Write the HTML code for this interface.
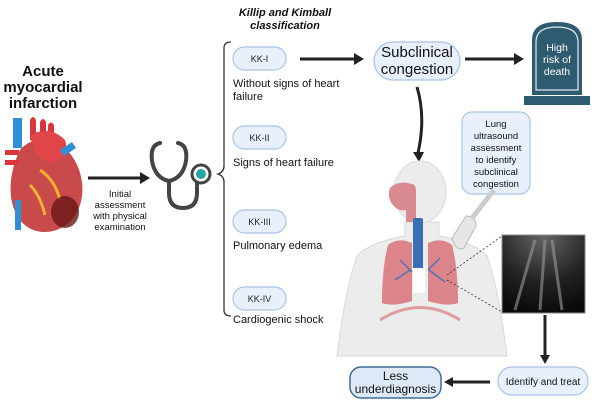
<!DOCTYPE html>
<html><head><meta charset="utf-8"><style>
html,body{margin:0;padding:0;background:#fff;}
svg{display:block;font-family:"Liberation Sans",sans-serif;}
</style></head><body>
<svg width="600" height="415" viewBox="0 0 600 415" xmlns="http://www.w3.org/2000/svg">
<defs>
<radialGradient id="us" cx="0.5" cy="0" r="1"><stop offset="0" stop-color="#666"/><stop offset="0.6" stop-color="#222"/><stop offset="1" stop-color="#0a0a0a"/></radialGradient>
</defs>
<!-- title -->
<g font-weight="bold" font-size="15" fill="#111" text-anchor="middle">
<text x="43" y="76">Acute</text><text x="43" y="92">myocardial</text><text x="43" y="108">infarction</text></g>
<!-- heart -->
<g>
<rect x="13" y="118" width="9" height="30" fill="#2f8fd6"/>
<path d="M30,120 q3,-6 6,0 v20 h-6z M40,122 q3,-6 6,0 v18 h-6z M48,125 q3,-5 6,0 v16 h-6z" fill="#d9363e"/>
<path d="M20,150 C10,170 5,200 20,220 C35,240 70,235 80,205 C88,180 75,150 55,142 C40,138 28,140 20,150z" fill="#c94a4a"/>
<path d="M30,135 q20,-10 35,5 q5,15 -10,22 q-20,3 -25,-27z" fill="#e0454a"/>
<path d="M60,150 l12,-8 l4,6 l-12,8z" fill="#2f8fd6"/>
<path d="M5,150 h14 v5 h-14z M5,160 h14 v5 h-14z" fill="#d9363e"/>
<path d="M40,170 q15,10 20,30 M30,185 q10,10 15,30" stroke="#f0b030" stroke-width="3" fill="none"/>
<ellipse cx="65" cy="212" rx="14" ry="16" fill="#6a1515" opacity="0.8"/>
<rect x="15" y="200" width="6" height="30" fill="#2f8fd6"/>
</g>
<!-- arrow 1 -->
<path d="M88,178 H142" stroke="#222" stroke-width="3"/>
<path d="M140,172 L150,178 L140,184z" fill="#222"/>
<g font-size="9.5" fill="#111" text-anchor="middle">
<text x="120" y="197">Initial</text><text x="120" y="208">assessment</text><text x="120" y="219">with physical</text><text x="120" y="230">examination</text></g>
<!-- stethoscope -->
<g fill="none" stroke="#444" stroke-width="4" stroke-linecap="round">
<path d="M160,143 q-10,2 -8,18 q3,17 17,20 q14,-3 17,-20 q2,-16 -8,-18"/>
<path d="M169,181 v12 q0,15 14,15 q14,0 14,-15 v-12"/>
</g>
<circle cx="201" cy="174" r="9" fill="#fff" stroke="#444" stroke-width="3"/>
<circle cx="201" cy="174" r="5" fill="#29a3a3"/>
<!-- brace -->
<path d="M231,42 q-7,0 -7,6 v118 q0,6 -6,8 q6,2 6,8 v128 q0,6 7,6" fill="none" stroke="#333" stroke-width="1.3"/>
<g font-size="11" font-weight="bold" font-style="italic" fill="#111" text-anchor="middle">
<text x="285" y="16">Killip and Kimball</text><text x="285" y="29">classification</text></g>
<g fill="#e8f1fb" stroke="#a9c4e6" stroke-width="1.2">
<rect x="233" y="47" width="53" height="23" rx="11.5"/>
<rect x="233" y="126" width="53" height="23" rx="11.5"/>
<rect x="233" y="210" width="53" height="23" rx="11.5"/>
<rect x="233" y="287" width="53" height="23" rx="11.5"/>
</g>
<g font-size="9" fill="#222" text-anchor="middle">
<text x="259.5" y="62">KK-I</text><text x="259.5" y="141">KK-II</text><text x="259.5" y="225">KK-III</text><text x="259.5" y="302">KK-IV</text></g>
<g font-size="11" fill="#111">
<text x="233" y="87">Without signs of heart</text><text x="233" y="100">failure</text>
<text x="233" y="166">Signs of heart failure</text>
<text x="233" y="249">Pulmonary edema</text>
<text x="233" y="323">Cardiogenic shock</text></g>
<!-- arrow to subclinical -->
<path d="M300,59 H356" stroke="#222" stroke-width="3"/>
<path d="M354,53 L364,59 L354,65z" fill="#222"/>
<rect x="374" y="42" width="86" height="38" rx="19" fill="#e8f1fb" stroke="#a9c4e6" stroke-width="1.3"/>
<g font-size="15" fill="#111" text-anchor="middle"><text x="417" y="57">Subclinical</text><text x="417" y="74">congestion</text></g>
<path d="M465,59 H515" stroke="#222" stroke-width="3"/>
<path d="M514,53 L524,59 L514,65z" fill="#222"/>
<!-- tombstone -->
<path d="M532,95 V40 q0,-18 25,-18 q25,0 25,18 V95z" fill="#2e5b70"/>
<path d="M536,90 V42 q0,-15 21,-15 q21,0 21,15 V90z" fill="none" stroke="#dfe8ee" stroke-width="1.2"/>
<rect x="524" y="96" width="66" height="9" fill="#2e5b70"/>
<g font-size="10.5" fill="#fff" text-anchor="middle"><text x="557" y="51">High</text><text x="557" y="63">risk of</text><text x="557" y="75">death</text></g>
<!-- curved arrow -->
<path d="M417,87 q9,30 1,66" fill="none" stroke="#222" stroke-width="3"/>
<path d="M413,152 L419,162 L424,152z" fill="#222"/>
<!-- lung ultrasound box -->
<rect x="462" y="112" width="68" height="82" rx="10" fill="#e8f1fb" stroke="#a9c4e6" stroke-width="1.2"/>
<g font-size="9.5" fill="#111" text-anchor="middle">
<text x="496" y="127">Lung</text><text x="496" y="139">ultrasound</text><text x="496" y="151">assessment</text><text x="496" y="163">to identify</text><text x="496" y="175">subclinical</text><text x="496" y="187">congestion</text></g>
<!-- body -->
<g>
<path d="M405,222 v14 q-35,6 -48,20 q-12,35 -20,100 h170 q-8,-65 -20,-100 q-13,-14 -48,-20 v-14z" fill="#ececec" stroke="#d8d8d8"/>
<ellipse cx="420" cy="192" rx="26" ry="31" fill="#ececec" stroke="#d8d8d8"/>
<path d="M390,188 q8,-8 22,-4 q4,0 4,8 v30 h-10 v-12 q-8,2 -14,-6 q-5,-8 -2,-16z" fill="#d98a90"/>
<path d="M388,245 q10,-8 24,-2 v58 q-18,6 -30,2 q0,-35 6,-58z M428,243 q14,-6 24,2 q6,23 6,58 q-12,4 -30,-2z" fill="#d97a80" opacity="0.9"/>
<rect x="413" y="218" width="10" height="52" fill="#3a6fb5" rx="2"/>
<rect x="413" y="268" width="12" height="25" fill="#fff"/>
<path d="M400,260 l12,12 M395,280 l15,-10 M440,258 l-12,12 M445,282 l-16,-12" stroke="#5a6fb5" stroke-width="1.5"/>
<path d="M380,320 q40,-25 80,0" stroke="#d97a80" stroke-width="3" fill="none" opacity="0.7"/>
</g>
<!-- probe -->
<path d="M452,238 l14,-22 q10,0 10,10 l-12,22 q-8,4 -12,-10z" fill="#e6e6e6" stroke="#bbb"/>
<path d="M472,218 l22,-28" stroke="#ccc" stroke-width="5"/>
<!-- ultrasound image -->
<rect x="502" y="235" width="83" height="78" fill="url(#us)" stroke="#888"/>
<path d="M535,240 l-20,70 M545,240 l-5,70 M552,240 l10,70" stroke="#999" stroke-width="3" opacity="0.6"/>
<line x1="447" y1="275" x2="502" y2="236" stroke="#333" stroke-width="0.8" stroke-dasharray="2,2"/>
<line x1="447" y1="280" x2="502" y2="312" stroke="#333" stroke-width="0.8" stroke-dasharray="2,2"/>
<!-- down arrow -->
<line x1="545" y1="315" x2="545" y2="357" stroke="#222" stroke-width="3"/>
<path d="M540,355 L545,364 L550,355z" fill="#222"/>
<rect x="498" y="367" width="90" height="28" rx="14" fill="#e8f1fb" stroke="#a9c4e6" stroke-width="1.2"/>
<text x="543" y="385" font-size="10" fill="#111" text-anchor="middle">Identify and treat</text>
<line x1="490" y1="382" x2="450" y2="382" stroke="#222" stroke-width="3"/>
<path d="M453,377 L444,382 L453,387z" fill="#222"/>
<rect x="350" y="367" width="91" height="31" rx="11" fill="#dde9f6" stroke="#3f6e9a" stroke-width="1.5"/>
<g font-size="12" fill="#111" text-anchor="middle"><text x="395.5" y="380">Less</text><text x="395.5" y="393">underdiagnosis</text></g>
</svg>
</body></html>
